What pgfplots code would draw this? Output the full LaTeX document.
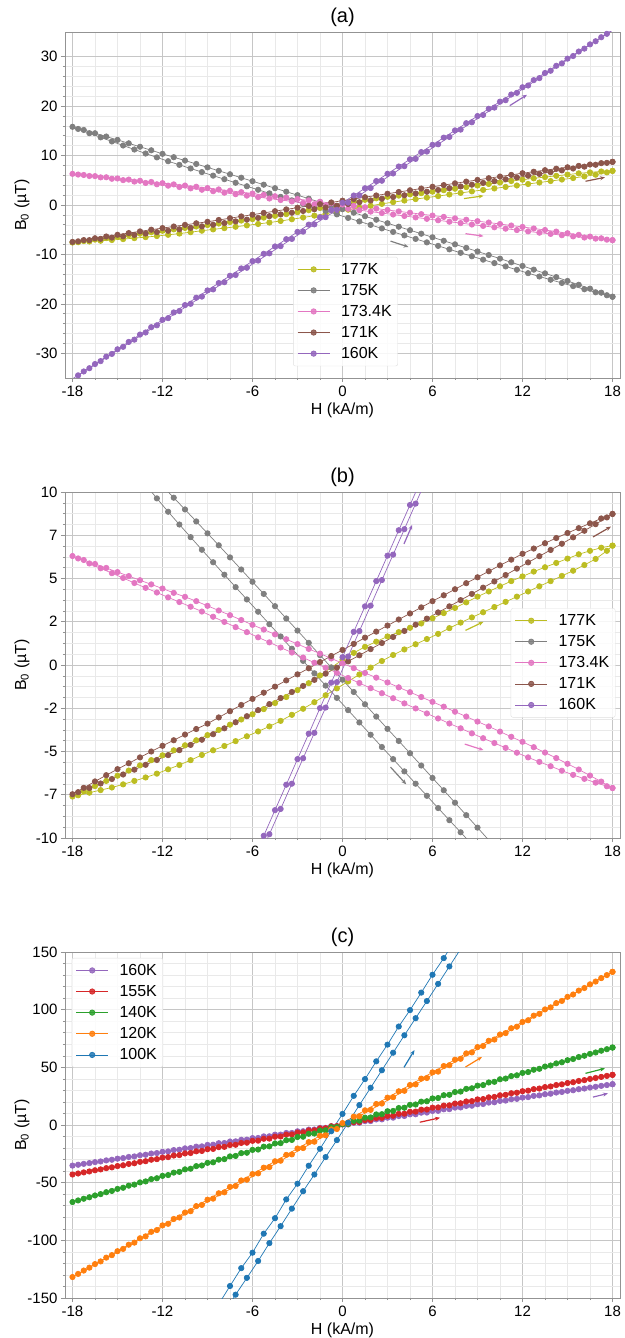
\documentclass[border=0pt]{standalone}
\usepackage{fontspec}
\setmainfont{Liberation Sans}
\usepackage{pgfplots}
\pgfplotsset{compat=1.18}
\usepackage{pgfplotstable}
\usetikzlibrary{arrows.meta}

\definecolor{c177}{HTML}{BCBD22}
\definecolor{c175}{HTML}{7F7F7F}
\definecolor{c173}{HTML}{E377C2}
\definecolor{c171}{HTML}{8C564B}
\definecolor{c160}{HTML}{9467BD}
\definecolor{c155}{HTML}{D62728}
\definecolor{c140}{HTML}{2CA02C}
\definecolor{c120}{HTML}{FF7F0E}
\definecolor{c100}{HTML}{1F77B4}

% Hysteresis loops B0(H), H in kA/m, B0 in uT.
% H,U: upper branch; HL,L: lower branch (sampled between the upper-branch fields)
\pgfplotstableread{
H U HL L
-18 -7.60 -17.625 -7.53
-17.25 -7.30 -16.875 -7.38
-16.5 -7.00 -16.125 -7.23
-15.75 -6.70 -15.375 -7.08
-15 -6.40 -14.625 -6.90
-14.25 -6.10 -13.875 -6.70
-13.5 -5.80 -13.125 -6.50
-12.75 -5.50 -12.375 -6.28
-12 -5.22 -11.625 -6.03
-11.25 -4.93 -10.875 -5.78
-10.5 -4.64 -10.125 -5.50
-9.75 -4.35 -9.375 -5.20
-9 -4.05 -8.625 -4.93
-8.25 -3.75 -7.875 -4.68
-7.5 -3.45 -7.125 -4.40
-6.75 -3.15 -6.375 -4.12
-6 -2.85 -5.625 -3.84
-5.25 -2.55 -4.875 -3.55
-4.5 -2.20 -4.125 -3.23
-3.75 -1.85 -3.375 -2.88
-3 -1.45 -2.625 -2.53
-2.25 -1.05 -1.875 -2.15
-1.5 -0.60 -1.125 -1.75
-0.75 -0.15 -0.375 -1.35
0 0.30 0.375 -0.95
0.75 0.70 1.125 -0.55
1.5 1.05 1.875 -0.15
2.25 1.35 2.625 0.23
3 1.65 3.375 0.58
3.75 1.90 4.125 0.90
4.5 2.15 4.875 1.20
5.25 2.40 5.625 1.50
6 2.70 6.375 1.80
6.75 3.00 7.125 2.13
7.5 3.30 7.875 2.45
8.25 3.62 8.625 2.75
9 3.95 9.375 3.05
9.75 4.25 10.125 3.35
10.5 4.55 10.875 3.65
11.25 4.85 11.625 3.95
12 5.12 12.375 4.25
12.75 5.40 13.125 4.55
13.5 5.65 13.875 4.85
14.25 5.90 14.625 5.15
15 6.15 15.375 5.45
15.75 6.40 16.125 5.78
16.5 6.60 16.875 6.13
17.25 6.78 17.625 6.60
18 6.90 18 6.90
}\tabA

\pgfplotstableread{
H U HL L
-18 15.82 -17.625 15.39
-17.25 15.18 -16.875 14.53
-16.5 14.52 -16.125 13.69
-15.75 13.85 -15.375 12.86
-15 13.17 -14.625 12.04
-14.25 12.48 -13.875 11.23
-13.5 11.78 -13.125 10.42
-12.75 11.07 -12.375 9.63
-12 10.35 -11.625 8.86
-11.25 9.67 -10.875 8.12
-10.5 8.99 -10.125 7.39
-9.75 8.30 -9.375 6.66
-9 7.61 -8.625 5.94
-8.25 6.92 -7.875 5.22
-7.5 6.22 -7.125 4.50
-6.75 5.52 -6.375 3.79
-6 4.81 -5.625 3.08
-5.25 4.11 -4.875 2.36
-4.5 3.40 -4.125 1.65
-3.75 2.69 -3.375 0.94
-3 1.99 -2.625 0.24
-2.25 1.28 -1.875 -0.48
-1.5 0.57 -1.125 -1.19
-0.75 -0.14 -0.375 -1.90
0 -0.85 0.375 -2.61
0.75 -1.56 1.125 -3.32
1.5 -2.27 1.875 -4.03
2.25 -2.98 2.625 -4.74
3 -3.69 3.375 -5.44
3.75 -4.39 4.125 -6.15
4.5 -5.10 4.875 -6.86
5.25 -5.81 5.625 -7.56
6 -6.53 6.375 -8.27
6.75 -7.24 7.125 -8.97
7.5 -7.96 7.875 -9.67
8.25 -8.68 8.625 -10.37
9 -9.40 9.375 -11.06
9.75 -10.12 10.125 -11.75
10.5 -10.85 10.875 -12.43
11.25 -11.59 11.625 -13.11
12 -12.33 12.375 -13.79
12.75 -13.08 13.125 -14.46
13.5 -13.83 13.875 -15.12
14.25 -14.59 14.625 -15.77
15 -15.37 15.375 -16.41
15.75 -16.14 16.125 -17.04
16.5 -16.93 16.875 -17.66
17.25 -17.74 17.625 -18.26
18 -18.56 18 -18.56
}\tabB

\pgfplotstableread{
H U HL L
-18 6.30 -17.625 6.16
-17.25 6.07 -16.875 5.87
-16.5 5.84 -16.125 5.59
-15.75 5.61 -15.375 5.31
-15 5.37 -14.625 5.03
-14.25 5.14 -13.875 4.74
-13.5 4.90 -13.125 4.46
-12.75 4.66 -12.375 4.19
-12 4.42 -11.625 3.91
-11.25 4.17 -10.875 3.64
-10.5 3.94 -10.125 3.37
-9.75 3.69 -9.375 3.09
-9 3.42 -8.625 2.79
-8.25 3.15 -7.875 2.49
-7.5 2.88 -7.125 2.19
-6.75 2.60 -6.375 1.90
-6 2.32 -5.625 1.60
-5.25 2.05 -4.875 1.31
-4.5 1.77 -4.125 1.01
-3.75 1.49 -3.375 0.72
-3 1.21 -2.625 0.43
-2.25 0.93 -1.875 0.13
-1.5 0.66 -1.125 -0.16
-0.75 0.38 -0.375 -0.45
0 0.10 0.375 -0.75
0.75 -0.18 1.125 -1.04
1.5 -0.46 1.875 -1.34
2.25 -0.73 2.625 -1.63
3 -1.01 3.375 -1.92
3.75 -1.29 4.125 -2.22
4.5 -1.57 4.875 -2.51
5.25 -1.85 5.625 -2.80
6 -2.13 6.375 -3.09
6.75 -2.41 7.125 -3.38
7.5 -2.70 7.875 -3.66
8.25 -2.98 8.625 -3.95
9 -3.27 9.375 -4.23
9.75 -3.55 10.125 -4.51
10.5 -3.85 10.875 -4.79
11.25 -4.15 11.625 -5.07
12 -4.44 12.375 -5.34
12.75 -4.75 13.125 -5.60
13.5 -5.06 13.875 -5.85
14.25 -5.38 14.625 -6.11
15 -5.71 15.375 -6.35
15.75 -6.04 16.125 -6.58
16.5 -6.39 16.875 -6.80
17.25 -6.74 17.625 -7.01
18 -7.11 18 -7.11
}\tabC

\pgfplotstableread{
H U HL L
-18 -7.47 -17.625 -7.35
-17.25 -7.10 -16.875 -7.11
-16.5 -6.73 -16.125 -6.85
-15.75 -6.37 -15.375 -6.59
-15 -6.02 -14.625 -6.33
-14.25 -5.68 -13.875 -6.05
-13.5 -5.34 -13.125 -5.77
-12.75 -5.00 -12.375 -5.49
-12 -4.67 -11.625 -5.21
-11.25 -4.35 -10.875 -4.92
-10.5 -4.02 -10.125 -4.62
-9.75 -3.70 -9.375 -4.32
-9 -3.39 -8.625 -4.00
-8.25 -3.03 -7.875 -3.66
-7.5 -2.67 -7.125 -3.31
-6.75 -2.31 -6.375 -2.96
-6 -1.96 -5.625 -2.61
-5.25 -1.60 -4.875 -2.26
-4.5 -1.25 -4.125 -1.91
-3.75 -0.89 -3.375 -1.56
-3 -0.54 -2.625 -1.21
-2.25 -0.19 -1.875 -0.86
-1.5 0.17 -1.125 -0.50
-0.75 0.52 -0.375 -0.15
0 0.87 0.375 0.21
0.75 1.22 1.125 0.56
1.5 1.58 1.875 0.92
2.25 1.93 2.625 1.27
3 2.28 3.375 1.62
3.75 2.63 4.125 1.97
4.5 2.98 4.875 2.33
5.25 3.33 5.625 2.68
6 3.69 6.375 3.04
6.75 4.03 7.125 3.39
7.5 4.38 7.875 3.75
8.25 4.73 8.625 4.11
9 5.07 9.375 4.47
9.75 5.42 10.125 4.83
10.5 5.76 10.875 5.20
11.25 6.09 11.625 5.57
12 6.43 12.375 5.93
12.75 6.73 13.125 6.29
13.5 7.04 13.875 6.65
14.25 7.34 14.625 7.01
15 7.63 15.375 7.38
15.75 7.91 16.125 7.76
16.5 8.19 16.875 8.14
17.25 8.47 17.625 8.53
18 8.73 18 8.73
}\tabD

\pgfplotstableread{
H U HL L
-18 -35.18 -17.625 -34.46
-17.25 -33.68 -16.875 -33.02
-16.5 -32.18 -16.125 -31.58
-15.75 -30.69 -15.375 -30.13
-15 -29.19 -14.625 -28.69
-14.25 -27.70 -13.875 -27.24
-13.5 -26.21 -13.125 -25.79
-12.75 -24.72 -12.375 -24.34
-12 -23.23 -11.625 -22.89
-11.25 -21.74 -10.875 -21.44
-10.5 -20.25 -10.125 -19.99
-9.75 -18.76 -9.375 -18.53
-9 -17.28 -8.625 -17.08
-8.25 -15.79 -7.875 -15.62
-7.5 -14.31 -7.125 -14.16
-6.75 -12.83 -6.375 -12.70
-6 -11.35 -5.625 -11.24
-5.25 -9.87 -4.875 -9.78
-4.5 -8.39 -4.125 -8.32
-3.75 -6.92 -3.375 -6.86
-3 -5.44 -2.625 -5.39
-2.25 -3.97 -1.875 -3.92
-1.5 -2.49 -1.125 -2.46
-0.75 -1.02 -0.375 -0.99
0 0.45 0.375 0.49
0.75 1.92 1.125 1.96
1.5 3.39 1.875 3.43
2.25 4.85 2.625 4.91
3 6.32 3.375 6.38
3.75 7.79 4.125 7.85
4.5 9.25 4.875 9.33
5.25 10.71 5.625 10.81
6 12.17 6.375 12.29
6.75 13.63 7.125 13.77
7.5 15.09 7.875 15.25
8.25 16.55 8.625 16.74
9 18.00 9.375 18.22
9.75 19.46 10.125 19.71
10.5 20.91 10.875 21.20
11.25 22.36 11.625 22.69
12 23.82 12.375 24.18
12.75 25.26 13.125 25.67
13.5 26.71 13.875 27.16
14.25 28.16 14.625 28.65
15 29.61 15.375 30.14
15.75 31.05 16.125 31.64
16.5 32.50 16.875 33.13
17.25 33.94 17.625 34.63
18 35.38 18 35.38
}\tabE

\pgfplotstableread{
H U HL L
-18 -42.90 -17.625 -42.02
-17.25 -41.07 -16.875 -40.25
-16.5 -39.24 -16.125 -38.48
-15.75 -37.41 -15.375 -36.71
-15 -35.58 -14.625 -34.94
-14.25 -33.75 -13.875 -33.17
-13.5 -31.93 -13.125 -31.39
-12.75 -30.10 -12.375 -29.61
-12 -28.28 -11.625 -27.83
-11.25 -26.46 -10.875 -26.05
-10.5 -24.64 -10.125 -24.27
-9.75 -22.82 -9.375 -22.49
-9 -21.00 -8.625 -20.71
-8.25 -19.18 -7.875 -18.93
-7.5 -17.37 -7.125 -17.14
-6.75 -15.56 -6.375 -15.35
-6 -13.74 -5.625 -13.57
-5.25 -11.93 -4.875 -11.78
-4.5 -10.13 -4.125 -9.98
-3.75 -8.32 -3.375 -8.19
-3 -6.51 -2.625 -6.39
-2.25 -4.71 -1.875 -4.60
-1.5 -2.90 -1.125 -2.80
-0.75 -1.10 -0.375 -1.00
0 0.70 0.375 0.80
0.75 2.50 1.125 2.60
1.5 4.30 1.875 4.41
2.25 6.09 2.625 6.21
3 7.89 3.375 8.02
3.75 9.68 4.125 9.83
4.5 11.48 4.875 11.63
5.25 13.27 5.625 13.44
6 15.06 6.375 15.25
6.75 16.84 7.125 17.07
7.5 18.63 7.875 18.88
8.25 20.42 8.625 20.69
9 22.20 9.375 22.51
9.75 23.98 10.125 24.33
10.5 25.76 10.875 26.15
11.25 27.54 11.625 27.97
12 29.32 12.375 29.79
12.75 31.10 13.125 31.62
13.5 32.88 13.875 33.44
14.25 34.65 14.625 35.27
15 36.42 15.375 37.10
15.75 38.19 16.125 38.93
16.5 39.96 16.875 40.76
17.25 41.73 17.625 42.59
18 43.50 18 43.50
}\tabF

\pgfplotstableread{
H U HL L
-18 -66.76 -17.625 -65.39
-17.25 -63.92 -16.875 -62.65
-16.5 -61.08 -16.125 -59.91
-15.75 -58.25 -15.375 -57.16
-15 -55.42 -14.625 -54.41
-14.25 -52.59 -13.875 -51.66
-13.5 -49.76 -13.125 -48.91
-12.75 -46.93 -12.375 -46.15
-12 -44.11 -11.625 -43.40
-11.25 -41.28 -10.875 -40.64
-10.5 -38.46 -10.125 -37.88
-9.75 -35.65 -9.375 -35.11
-9 -32.83 -8.625 -32.35
-8.25 -30.02 -7.875 -29.58
-7.5 -27.20 -7.125 -26.82
-6.75 -24.39 -6.375 -24.04
-6 -21.59 -5.625 -21.27
-5.25 -18.78 -4.875 -18.49
-4.5 -15.98 -4.125 -15.71
-3.75 -13.18 -3.375 -12.93
-3 -10.38 -2.625 -10.15
-2.25 -7.58 -1.875 -7.37
-1.5 -4.78 -1.125 -4.59
-0.75 -1.99 -0.375 -1.80
0 0.80 0.375 1.00
0.75 3.59 1.125 3.79
1.5 6.38 1.875 6.58
2.25 9.16 2.625 9.38
3 11.94 3.375 12.18
3.75 14.72 4.125 14.98
4.5 17.50 4.875 17.78
5.25 20.28 5.625 20.59
6 23.05 6.375 23.39
6.75 25.83 7.125 26.20
7.5 28.60 7.875 29.01
8.25 31.36 8.625 31.83
9 34.13 9.375 34.64
9.75 36.89 10.125 37.46
10.5 39.66 10.875 40.27
11.25 42.42 11.625 43.10
12 45.17 12.375 45.92
12.75 47.93 13.125 48.75
13.5 50.68 13.875 51.58
14.25 53.43 14.625 54.41
15 56.18 15.375 57.24
15.75 58.93 16.125 60.07
16.5 61.68 16.875 62.90
17.25 64.42 17.625 65.74
18 67.16 18 67.16
}\tabG

\pgfplotstableread{
H U HL L
-18 -131.80 -17.625 -129.10
-17.25 -126.19 -16.875 -123.68
-16.5 -120.59 -16.125 -118.26
-15.75 -114.98 -15.375 -112.83
-15 -109.38 -14.625 -107.41
-14.25 -103.79 -13.875 -101.98
-13.5 -98.20 -13.125 -96.54
-12.75 -92.61 -12.375 -91.09
-12 -87.03 -11.625 -85.65
-11.25 -81.46 -10.875 -80.20
-10.5 -75.89 -10.125 -74.74
-9.75 -70.31 -9.375 -69.28
-9 -64.75 -8.625 -63.82
-8.25 -59.19 -7.875 -58.36
-7.5 -53.64 -7.125 -52.88
-6.75 -48.08 -6.375 -47.41
-6 -42.53 -5.625 -41.93
-5.25 -36.99 -4.875 -36.45
-4.5 -31.46 -4.125 -30.96
-3.75 -25.91 -3.375 -25.47
-3 -20.38 -2.625 -19.97
-2.25 -14.86 -1.875 -14.47
-1.5 -9.34 -1.125 -8.97
-0.75 -3.81 -0.375 -3.46
0 1.70 0.375 2.06
0.75 7.21 1.125 7.58
1.5 12.72 1.875 13.10
2.25 18.22 2.625 18.62
3 23.72 3.375 24.15
3.75 29.21 4.125 29.68
4.5 34.70 4.875 35.22
5.25 40.19 5.625 40.76
6 45.67 6.375 46.31
6.75 51.14 7.125 51.86
7.5 56.62 7.875 57.42
8.25 62.09 8.625 62.97
9 67.55 9.375 68.53
9.75 73.01 10.125 74.10
10.5 78.47 10.875 79.68
11.25 83.92 11.625 85.25
12 89.37 12.375 90.82
12.75 94.81 13.125 96.41
13.5 100.25 13.875 102.00
14.25 105.69 14.625 107.59
15 111.12 15.375 113.18
15.75 116.54 16.125 118.79
16.5 121.97 16.875 124.39
17.25 127.39 17.625 130.00
18 132.80 18 132.80
}\tabH

\pgfplotstableread{
H U HL L
-8.25 -155.2 -7.875 -162.6
-7.5 -139.6 -7.125 -147.1
-6.75 -124.1 -6.375 -132.5
-6 -110.7 -5.625 -117.9
-5.25 -94.2 -4.875 -102.4
-4.5 -80.8 -4.125 -87.7
-3.75 -64.5 -3.375 -72.5
-3 -50.9 -2.625 -57.4
-2.25 -35.3 -1.875 -42.9
-1.5 -20.6 -1.125 -27.8
-0.75 -5.4 -0.375 -13.1
0 9.6 0.375 2.0
0.75 25.3 1.125 17.3
1.5 39.8 1.875 32.3
2.25 55.2 2.625 47.5
3 69.7 3.375 62.7
3.75 85.4 4.125 77.8
4.5 99.6 4.875 92.6
5.25 114.8 5.625 107.5
6 130.3 6.375 122.4
6.75 144.7 7.125 137.5
7.5 160.2 7.875 152.6
8.25 175.1 8.625 167.5
}\tabI

\pgfplotsset{
  loop/.style={color=#1, line width=0.7pt, mark=*, mark size=2.7pt,
    mark options={solid, fill=#1, draw=#1}},
  dir/.style={color=#1, line width=1.2pt, -{Stealth[length=5pt,width=4pt]}},
  panel/.style={
    width=555pt, height=346pt, scale only axis,
    xmin=-18.5, xmax=18.5,
    xtick={-18,-12,-6,0,6,12,18},
    xticklabels={-18,-12,-6,0,6,12,18},
    minor x tick num=3,
    grid=both,
    major grid style={gray!45, line width=0.6pt},
    minor grid style={gray!17, line width=0.5pt},
    axis line style={gray!85, line width=0.8pt},
    tick style={gray!85, line width=0.6pt},
    major tick length=4pt, minor tick length=2pt,
    tick align=outside,
    xtick pos=bottom, ytick pos=left,
    ticklabel style={font=\fontsize{15}{17}\selectfont},
    xlabel={H (kA/m)},
    ylabel={B\textsubscript{0} (µT)},
    label style={font=\fontsize{16}{18}\selectfont},
    xlabel style={at={(axis description cs:0.5,-0.0925)}, anchor=center},
    ylabel style={at={(axis description cs:-0.0775,0.5)}, anchor=center},
    title style={font=\fontsize{20}{22}\selectfont, yshift=-4pt},
    legend cell align=left,
    legend style={font=\fontsize{16}{18}\selectfont, draw=gray!25,
      rounded corners=2pt, fill=white, fill opacity=0.85, text opacity=1,
      draw opacity=1, row sep=4.5pt, inner xsep=4pt, inner ysep=4pt,
      anchor=north west,
      /tikz/every odd column/.append style={column sep=9pt}},
    legend image code/.code={%
      \draw[mark repeat=2,mark phase=2,##1] plot coordinates {(0pt,0pt) (16pt,0pt) (32pt,0pt)};},
  },
}

% one loop = upper branch (with legend entry) + lower branch
\newcommand{\loopplot}[3]{%
  \addplot[loop=#1] table[x=H,y=U] {#2}; \addlegendentry{#3}
  \addplot[loop=#1, forget plot] table[x=HL,y=L] {#2};}

\begin{document}
\begin{tikzpicture}
\useasboundingbox (-65pt,32pt) rectangle (559pt,-1306pt);

% (a) full view of the loops near the transition
\begin{axis}[panel, at={(0pt,0pt)}, anchor=north west,
  title={(a)}, ymin=-35, ymax=35,
  ytick={-30,-20,-10,0,10,20,30}, yticklabels={-30,-20,-10,0,10,20,30},
  minor y tick num=4,
  legend style={at={(0.411,0.350)}}]
\loopplot{c177}{\tabA}{177K}
\loopplot{c175}{\tabB}{175K}
\loopplot{c173}{\tabC}{173.4K}
\loopplot{c171}{\tabD}{171K}
\loopplot{c160}{\tabE}{160K}
\addplot[dir=c177, forget plot] coordinates {(8.1,1.3) (9.4,1.85)};
\addplot[dir=c175, forget plot] coordinates {(3.2,-7.3) (4.4,-8.5)};
\addplot[dir=c173, forget plot] coordinates {(8.2,-5.8) (9.4,-6.3)};
\addplot[dir=c171, forget plot] coordinates {(16.2,4.8) (17.5,5.6)};
\addplot[dir=c160, forget plot] coordinates {(11.15,20.1) (12.3,22.3)};
\end{axis}

% (b) close-up around the origin
\begin{axis}[panel, at={(0pt,-460pt)}, anchor=north west,
  title={(b)}, ymin=-10, ymax=10,
  ytick={-10,-7.5,-5,-2.5,0,2.5,5,7.5,10},
  yticklabels={-10,-7,-5,-2,0,2,5,7,10},
  minor y tick num=3,
  legend style={at={(0.803,0.664)}}]
\loopplot{c177}{\tabA}{177K}
\loopplot{c175}{\tabB}{175K}
\loopplot{c173}{\tabC}{173.4K}
\loopplot{c171}{\tabD}{171K}
\loopplot{c160}{\tabE}{160K}
\addplot[dir=c177, forget plot] coordinates {(8.2,2.0) (9.4,2.5)};
\addplot[dir=c175, forget plot] coordinates {(3.2,-5.9) (4.25,-6.9)};
\addplot[dir=c173, forget plot] coordinates {(8.15,-4.57) (9.4,-4.92)};
\addplot[dir=c171, forget plot] coordinates {(16.7,7.4) (17.9,8.0)};
\addplot[dir=c160, forget plot] coordinates {(4.1,7.0) (4.65,8.1)};
\end{axis}

% (c) low-temperature loops
\begin{axis}[panel, at={(0pt,-920pt)}, anchor=north west,
  title={(c)}, ymin=-150, ymax=150,
  ytick={-150,-100,-50,0,50,100,150},
  yticklabels={-150,-100,-50,0,50,100,150},
  minor y tick num=4,
  legend style={at={(0.012,0.983)}}]
\loopplot{c160}{\tabE}{160K}
\loopplot{c155}{\tabF}{155K}
\loopplot{c140}{\tabG}{140K}
\loopplot{c120}{\tabH}{120K}
\loopplot{c100}{\tabI}{100K}
\addplot[dir=c100, forget plot] coordinates {(4.1,50) (4.8,65)};
\addplot[dir=c120, forget plot] coordinates {(8.2,50.3) (9.3,59)};
\addplot[dir=c140, forget plot] coordinates {(16.2,44.8) (17.5,49.1)};
\addplot[dir=c160, forget plot] coordinates {(16.7,24.2) (17.7,27.4)};
\addplot[dir=c155, forget plot] coordinates {(5.15,2.4) (6.5,6.3)};
\end{axis}
\end{tikzpicture}
\end{document}
